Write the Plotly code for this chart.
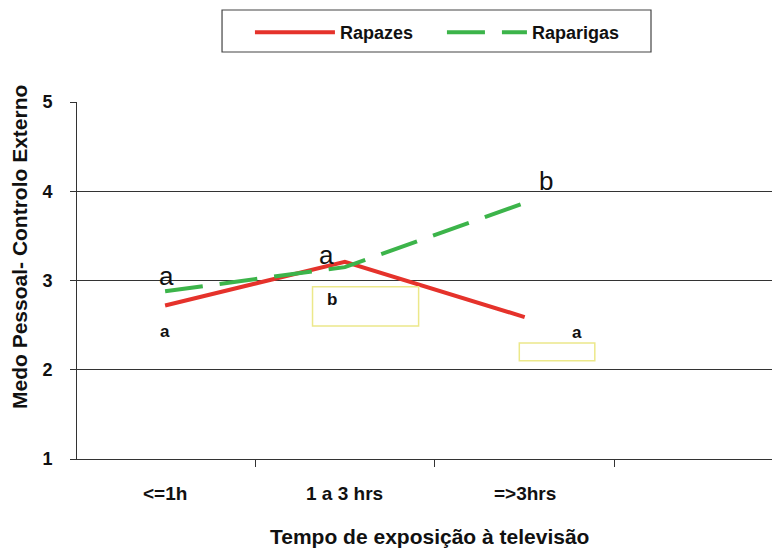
import plotly.graph_objects as go

categories = ["<=1h", "1 a 3 hrs", "=>3hrs"]
rapazes = [2.72, 3.21, 2.59]
raparigas = [2.88, 3.15, 3.87]
y_ticks = [1, 2, 3, 4, 5]

# significance letters: (text, x index, y value)
letters_big = [("a", 0.01, 3.05), ("a", 0.90, 3.29), ("b", 2.12, 4.11)]
letters_small = [("a", 0.0, 2.43), ("b", 0.93, 2.79), ("a", 2.29, 2.42)]
# yellow boxes (x0, x1, y0, y1) in data units
boxes = [(0.82, 1.41, 2.49, 2.93), (1.97, 2.39, 2.10, 2.30)]

FONT = "Liberation Sans"
RED = "#e5322b"
GREEN = "#3cb44a"
xs = list(range(len(categories)))

fig = go.Figure()
fig.add_trace(go.Scatter(x=xs, y=rapazes, mode="lines", name="<b>Rapazes</b>",
                         line=dict(color=RED, width=4)))
fig.add_trace(go.Scatter(x=xs, y=raparigas, mode="lines", name="<b>Raparigas</b>",
                         line=dict(color=GREEN, width=4, dash="38px,17px")))

for t, x, y in letters_big:
    fig.add_annotation(x=x, y=y, text=t, showarrow=False, xref="x", yref="y",
                       font=dict(family=FONT, size=26, color="#111"))
for t, x, y in letters_small:
    fig.add_annotation(x=x, y=y, text="<b>%s</b>" % t, showarrow=False, xref="x", yref="y",
                       font=dict(family=FONT, size=17, color="#111"))
for x0, x1, y0, y1 in boxes:
    fig.add_shape(type="rect", x0=x0, x1=x1, y0=y0, y1=y1, xref="x", yref="y",
                  line=dict(color="#ece88a", width=1.5))

for i, c in enumerate(categories):
    fig.add_annotation(x=i, y=-0.098, xref="x", yref="paper", text="<b>%s</b>" % c,
                       xanchor="center", yanchor="middle",
                       showarrow=False, font=dict(family=FONT, size=19, color="#111"))

fig.add_annotation(x=0.502, y=-0.218, xref="paper", yref="paper",
                   xanchor="center", yanchor="middle",
                   text="<b>Tempo de exposição à televisão</b>", showarrow=False,
                   font=dict(family=FONT, size=21, color="#111"))
fig.add_annotation(x=-0.081, y=0.594, xref="paper", yref="paper", textangle=-90,
                   xanchor="center", yanchor="middle",
                   text="<b>Medo Pessoal- Controlo Externo</b>", showarrow=False,
                   font=dict(family=FONT, size=21, color="#111"))

# legend frame
fig.add_shape(type="rect", xref="paper", yref="paper", x0=0.2063, x1=0.8165,
              y0=1.140, y1=1.2577, line=dict(color="#444", width=1.2))

fig.update_layout(
    width=772, height=541,
    margin=dict(l=69, r=0, t=94, b=90),
    paper_bgcolor="white", plot_bgcolor="white",
    font=dict(family=FONT, color="#111"),
    showlegend=True,
    legend=dict(orientation="h", x=0.246, xanchor="left", y=1.2465, yanchor="top",
                borderwidth=0, bgcolor="rgba(0,0,0,0)",
                font=dict(family=FONT, size=18, color="#111"),
                entrywidth=97, entrywidthmode="pixels", itemwidth=80),
    xaxis=dict(range=[-0.49, 3.42], tickvals=[-0.5, 0.5, 1.5, 2.5], ticks="outside",
               ticklen=7, tickcolor="#333", showticklabels=False, showgrid=False,
               showline=True, linecolor="#333", linewidth=1, zeroline=False),
    yaxis=dict(range=[1, 5], tickvals=y_ticks,
               ticktext=["<b>%d</b>" % v for v in y_ticks],
               ticks="outside", ticklen=6, tickcolor="#333",
               showgrid=True, gridcolor="#333", gridwidth=1, showline=True,
               linecolor="#333", linewidth=1, zeroline=False,
               tickfont=dict(family=FONT, size=18, color="#111"),
               ticklabelstandoff=14),
)

fig.write_html("out.html")
